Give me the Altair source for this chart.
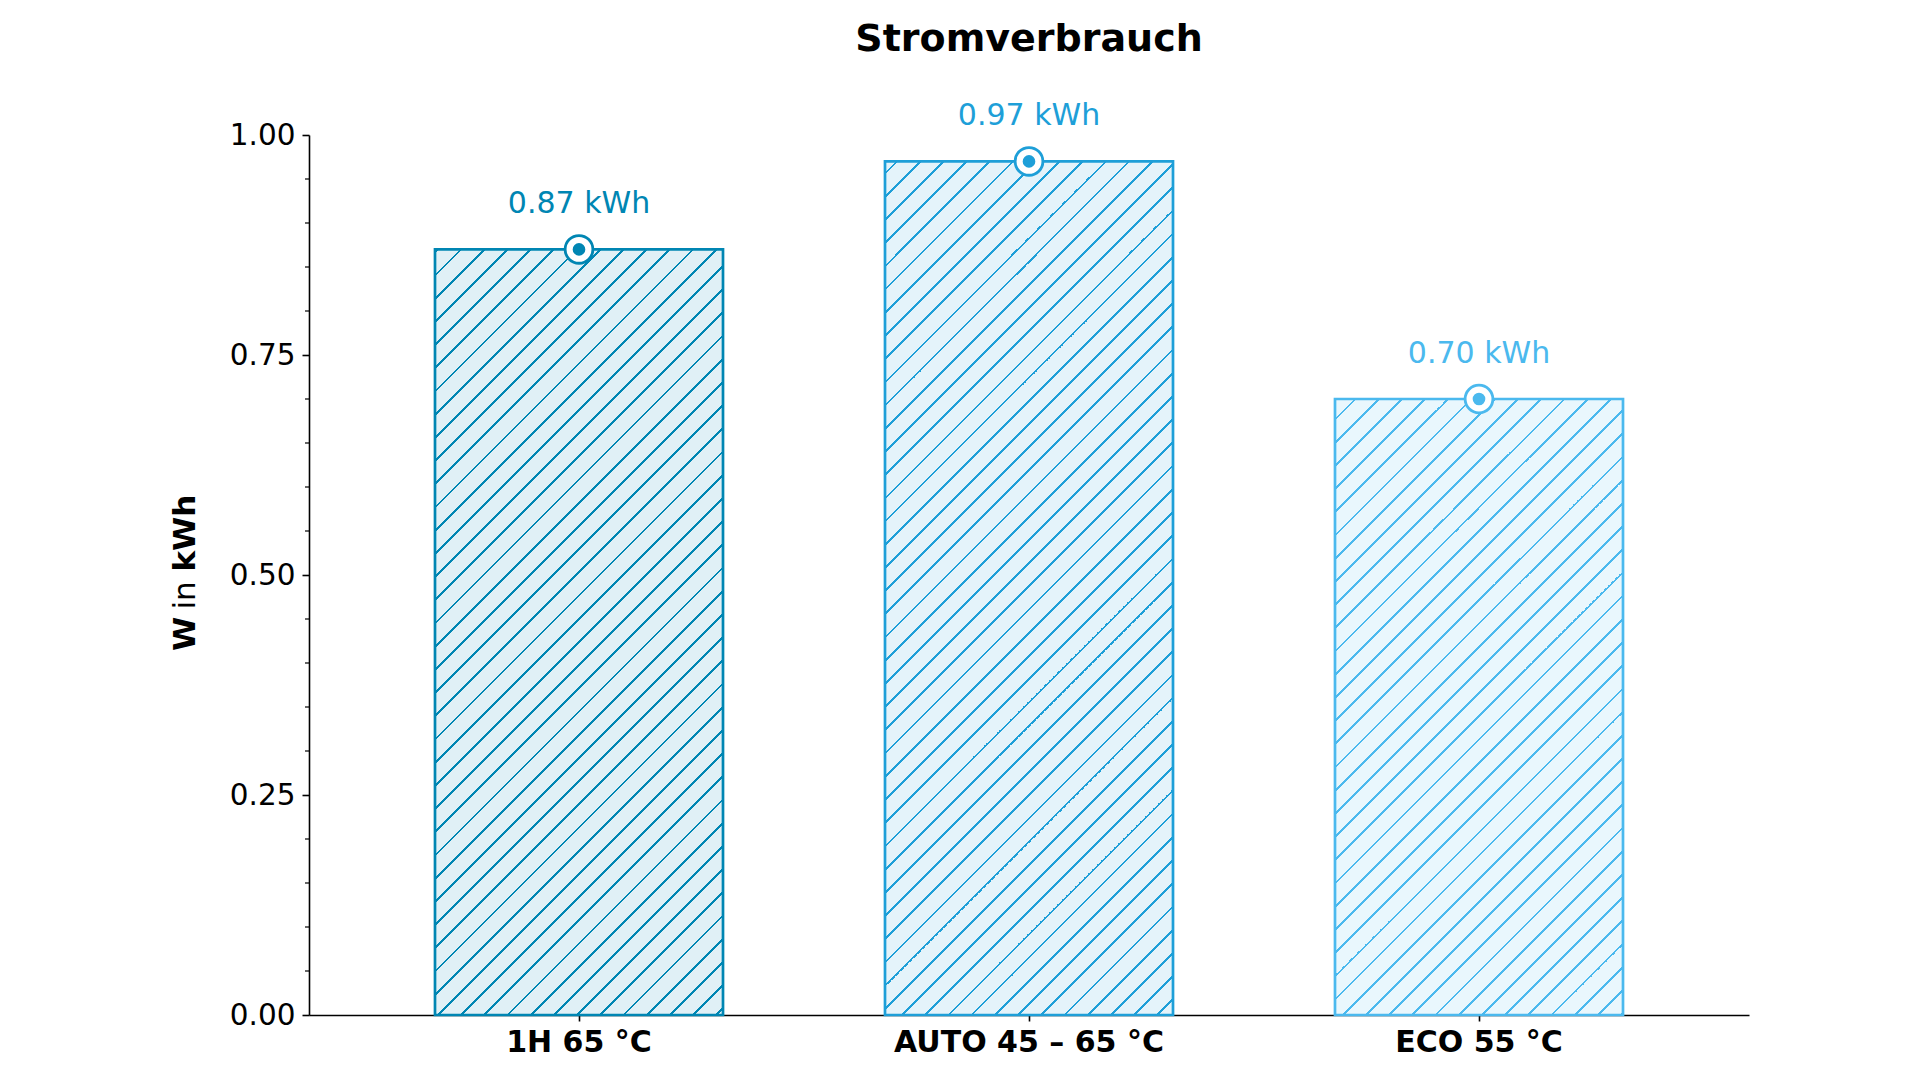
import altair as alt
import pandas as pd

# ---- data ----
categories = ["1H 65 °C", "AUTO 45 – 65 °C", "ECO 55 °C"]
values = [0.87, 0.97, 0.70]
labels = ["0.87 kWh", "0.97 kWh", "0.70 kWh"]
edge_colors = ["#0086B3", "#1E9FD8", "#4BB9EE"]
fill_colors = ["#E0F0F6", "#E4F3FA", "#E9F7FD"]
y_major = [0.0, 0.25, 0.5, 0.75, 1.0]
y_minor = [0.05, 0.10, 0.15, 0.20, 0.30, 0.35, 0.40, 0.45,
           0.55, 0.60, 0.65, 0.70, 0.80, 0.85, 0.90, 0.95]

FONT = "DejaVu Sans"
PW, PH = 1440, 880
PAD_L, PAD_T = 309, 135
STEP = PW / (3 - 0.36 + 2 * 0.28)
BW = STEP * (1 - 0.36)
OFF = (PW - STEP * (3 - 0.36)) / 2

df = pd.DataFrame({"cat": categories, "val": values, "label": labels})


def hatch_fill(edge, fill, left_px, top_px, w, h, s=23.2, lw=2.8, phase=14.6):
    total = w + h
    q0 = left_px + top_px
    c = (phase - q0) % s
    stops = [{"offset": 0, "color": fill}]
    while c - lw / 2 < total:
        a = max(c - lw / 2, 0) / total
        b = min(c + lw / 2, total) / total
        stops += [{"offset": a, "color": fill}, {"offset": a, "color": edge},
                  {"offset": b, "color": edge}, {"offset": b, "color": fill}]
        c += s
    stops.append({"offset": 1, "color": fill})
    r = h / w
    k = (1 + r) / (1 + r * r)
    return {"gradient": "linear", "x1": 0, "y1": 0, "x2": k, "y2": k * r, "stops": stops}


xenc = alt.X(
    "cat:N",
    sort=categories,
    scale=alt.Scale(domain=categories, paddingInner=0.36, paddingOuter=0.28),
    axis=alt.Axis(title=None, labelAngle=0, labelFontWeight="bold", labelFontSize=30,
                  labelFont=FONT, labelColor="black", tickSize=6, tickWidth=1.6,
                  tickColor="black", domainColor="black", domainWidth=1.6,
                  labelPadding=6, labelLimit=0, grid=False),
)
yscale = alt.Scale(domain=[0, 1], nice=False, zero=True)
yenc = alt.Y(
    "val:Q",
    scale=yscale,
    axis=alt.Axis(title=None, values=y_major, format=".2f", labelFontSize=29.5,
                  labelFont=FONT, labelColor="black", tickSize=7, tickWidth=1.6,
                  tickColor="black", domainColor="black", domainWidth=1.6,
                  labelPadding=7, grid=False),
)

layers = []
for i, cat in enumerate(categories):
    h = values[i] * PH
    left = PAD_L + OFF + i * STEP
    top = PAD_T + PH - h
    grad = hatch_fill(edge_colors[i], fill_colors[i], left, top, BW, h)
    layers.append(
        alt.Chart(df.iloc[[i]]).mark_bar(fill=grad, stroke=edge_colors[i], strokeWidth=2.7)
        .encode(x=xenc, y=yenc)
    )

cscale = alt.Scale(domain=categories, range=edge_colors)

points_outer = alt.Chart(df).mark_point(shape="circle", filled=True, fill="white",
                                         size=770, strokeWidth=2.8, opacity=1).encode(
    x=xenc, y=yenc, stroke=alt.Stroke("cat:N", scale=cscale, legend=None))
points_inner = alt.Chart(df).mark_point(shape="circle", filled=True, size=160, opacity=1,
                                         strokeWidth=0).encode(
    x=xenc, y=yenc, fill=alt.Fill("cat:N", scale=cscale, legend=None))
texts = alt.Chart(df).mark_text(dy=-36, baseline="alphabetic", fontSize=30, font=FONT).encode(
    x=xenc, y=yenc, text="label:N", color=alt.Color("cat:N", scale=cscale, legend=None))

minor = alt.Chart(pd.DataFrame({"val": y_minor})).mark_rule(color="black", strokeWidth=1.2).encode(
    y=yenc, x=alt.value(-4), x2=alt.value(0))

ylab_parts = [("W", "bold", 516), ("in", "normal", 474.5), ("kWh", "bold", 436.5)]
ylab_layers = []
for t, wgt, ypos in ylab_parts:
    ylab_layers.append(
        alt.Chart(pd.DataFrame({"t": [t]})).mark_text(
            angle=270, align="left", baseline="alphabetic", fontSize=31,
            fontWeight=wgt, font=FONT, color="black")
        .encode(text="t:N", x=alt.value(-113.6), y=alt.value(ypos))
    )

chart = alt.layer(*layers, minor, points_outer, points_inner, texts, *ylab_layers).properties(
    width=PW, height=PH,
    title=alt.TitleParams("Stromverbrauch", fontSize=38, fontWeight="bold", font=FONT,
                          anchor="middle", color="black", offset=42),
    autosize=alt.AutoSizeParams(type="none"),
    padding={"left": PAD_L, "top": PAD_T, "right": 1920 - PAD_L - PW, "bottom": 1080 - PAD_T - PH},
    background="white",
).configure_view(stroke=None)

chart.save("out.html", embed_options={"renderer": "svg", "actions": False})
